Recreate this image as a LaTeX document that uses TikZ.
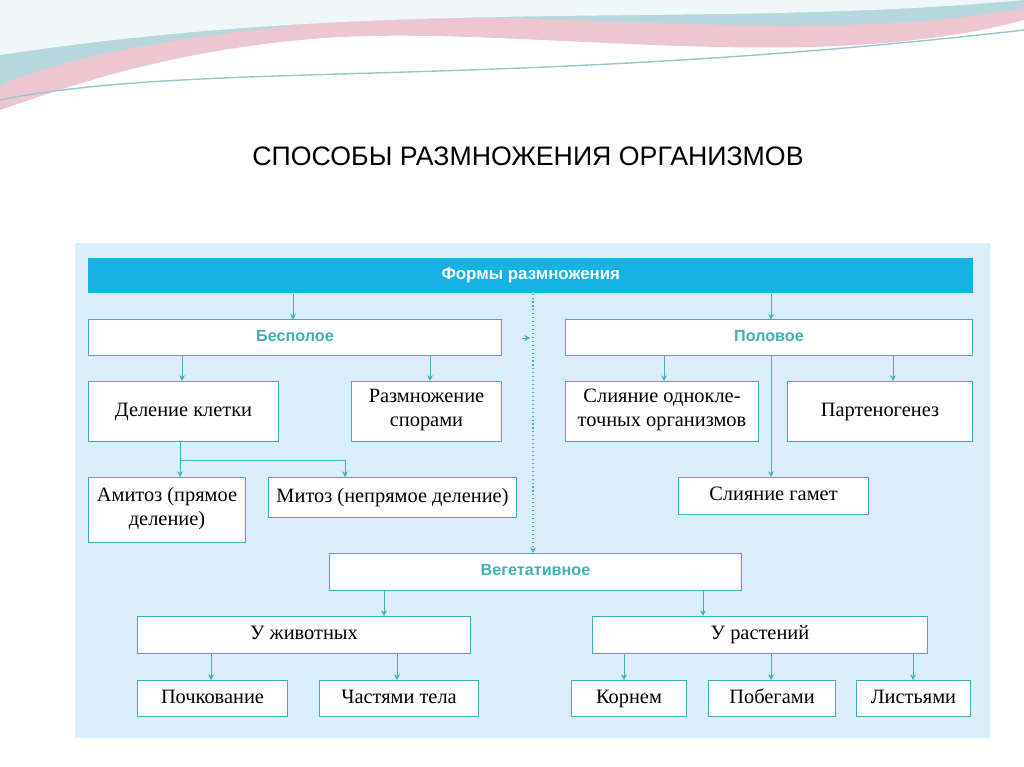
\documentclass[tikz,border=0pt]{standalone}
\usepackage{fontspec}
\setmainfont{Liberation Serif}
\newfontfamily\headfont{Liberation Sans}
\usetikzlibrary{arrows.meta}
\definecolor{teal1}{RGB}{64,176,180}
\definecolor{panel}{RGB}{218,238,250}
\definecolor{barcyan}{RGB}{22,178,226}
\definecolor{pinkw}{RGB}{226,160,180}
\definecolor{tealw}{RGB}{150,200,205}
\tikzset{
  box/.style={draw=teal1, line width=0.8pt, fill=white, align=center, font=\fontsize{14.5}{17}\selectfont, execute at begin node=\strut},
  head/.style={box, font=\headfont\bfseries\fontsize{11.5}{13}\selectfont, text=teal1},
  arr/.style={-{Stealth[length=4pt,width=4pt]}, teal1, line width=0.6pt},
}
\begin{document}
\begin{tikzpicture}[x=0.025cm,y=-0.025cm]
  \useasboundingbox (0,0) rectangle (1024,767);
  \fill[white] (0,0) rectangle (1024,767);
  % banner
  \fill[pinkw!60] (0,0) -- (1024,0) -- (1024,20) .. controls (800,80) and (500,20) .. (300,40) .. controls (150,55) and (60,90) .. (0,110) -- cycle;
  \fill[tealw!70] (0,0) -- (1024,0) -- (1024,8) .. controls (800,50) and (500,0) .. (300,25) .. controls (150,40) and (60,60) .. (0,85) -- cycle;
  \fill[white!85!tealw] (0,0) -- (1024,0) .. controls (700,30) and (400,-5) .. (0,55) -- cycle;
  \draw[tealw, line width=1pt] (0,100) .. controls (200,60) and (500,90) .. (1024,30);
  % title
  \node[font=\headfont\fontsize{19}{21}\selectfont] (title) at (528,156) {СПОСОБЫ РАЗМНОЖЕНИЯ ОРГАНИЗМОВ};
  % panel
  \fill[panel] (75,243) rectangle (990,738);
  \node[fill=barcyan, text=white, font=\headfont\bfseries\fontsize{12}{13}\selectfont, minimum width=885*0.025cm, minimum height=35*0.025cm, anchor=north west, inner sep=0pt] (forms) at (88,258) {Формы размножения};
  \newcommand{\B}[7]{\node[#2, minimum width=#5*0.025cm-0.8pt, minimum height=#6*0.025cm-0.8pt, anchor=north west, inner sep=1pt] (#1) at (#3,#4) {#7};}
  \B{asex}{head}{88}{319}{414}{37}{Бесполое}
  \B{sex}{head}{565}{319}{408}{37}{Половое}
  \B{div}{box}{88}{381}{191}{61}{Деление клетки}
  \B{spore}{box}{351}{381}{151}{61}{Размножение\\\strut спорами}
  \B{uni}{box}{565}{381}{194}{61}{Слияние однокле-\\\strut точных организмов}
  \B{parth}{box}{787}{381}{186}{61}{Партеногенез}
  \B{amit}{box}{88}{477}{158}{66}{Амитоз (прямое\\\strut деление)}
  \B{mit}{box}{268}{477}{249}{41}{Митоз (непрямое деление)}
  \B{gam}{box}{678}{477}{191}{38}{Слияние гамет}
  \B{veg}{head}{329}{553}{413}{38}{Вегетативное}
  \B{anim}{box}{137}{616}{334}{38}{У животных}
  \B{plant}{box}{592}{616}{336}{38}{У растений}
  \B{bud}{box}{137}{680}{151}{37}{Почкование}
  \B{part}{box}{319}{680}{160}{37}{Частями тела}
  \B{root}{box}{571}{680}{116}{37}{Корнем}
  \B{shoot}{box}{708}{680}{128}{37}{Побегами}
  \B{leaf}{box}{856}{680}{115}{37}{Листьями}
  % connectors
  \draw[arr] (forms.south -| asex.north west) ++(205,0) -- ++(0,26);
  \draw[arr] (forms.south -| sex.north west) ++(206,0) -- ++(0,26);
  \coordinate (dtop) at (forms.south -| 533,0);
  \draw[teal1, dotted, line width=0.8pt, -{Stealth[length=4pt,width=4pt]}] (dtop) -- (veg.north -| dtop);
  \coordinate (mid) at (522,338);
  \draw[arr] (mid) -- ++(8,0);
  \draw[arr] (asex.south west) ++(94,0) -- ++(0,25);
  \draw[arr] (asex.south west) ++(342,0) -- ++(0,25);
  \draw[arr] (sex.south west) ++(99,0) -- ++(0,25);
  \draw[arr] (sex.south west) ++(328,0) -- ++(0,25);
  \draw[arr] (sex.south west) ++(206,0) -- (gam.north -| 771,0);
  \draw[arr] (div.south west) ++(92,0) -- (amit.north -| 180,0);
  \draw[arr] (180,460) -- (345,460) -- (mit.north -| 345,0);
  \draw[arr] (veg.south west) ++(55,0) -- ++(0,25);
  \draw[arr] (veg.south west) ++(374,0) -- ++(0,25);
  \draw[arr] (anim.south west) ++(74,0) -- ++(0,26);
  \draw[arr] (anim.south west) ++(260,0) -- ++(0,26);
  \draw[arr] (plant.south west) ++(32,0) -- ++(0,26);
  \draw[arr] (plant.south west) ++(179,0) -- ++(0,26);
  \draw[arr] (plant.south west) ++(321,0) -- ++(0,26);
\end{tikzpicture}
\end{document}
